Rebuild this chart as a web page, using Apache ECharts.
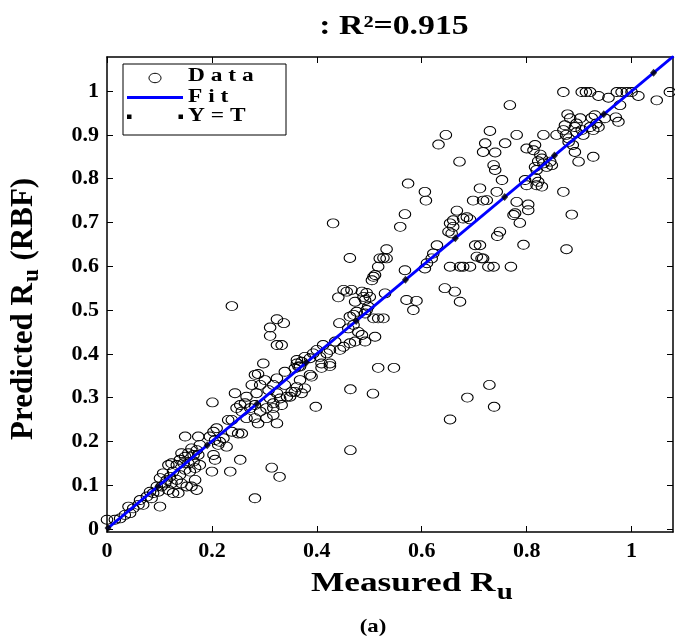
<!DOCTYPE html>
<html><head><meta charset="utf-8">
<script src="https://cdn.jsdelivr.net/npm/echarts@6/dist/echarts.min.js"></script>
<style>html,body{margin:0;padding:0;background:#fff}#c{width:675px;height:642px}</style>
</head><body><div id="c"></div>
<script>
// ---- data ----
const measured = [
0.870,0.905,0.913,0.921,0.937,0.972,0.981,0.991,1.000,1.013,0.956,1.073,1.048,0.768,0.978,0.970,0.975,0.878,0.883,0.902,
0.895,0.892,0.924,0.933,0.930,0.949,0.873,0.870,0.875,0.880,0.895,0.905,0.908,0.921,0.927,0.937,0.857,0.880,0.888,0.892,
0.832,0.781,0.730,0.721,0.717,0.740,0.759,0.800,0.816,0.813,0.826,0.829,0.822,0.832,0.838,0.816,0.819,0.737,0.740,0.753,
0.711,0.724,0.743,0.797,0.800,0.816,0.822,0.829,0.819,0.845,0.848,0.899,0.927,0.870,0.781,0.803,0.803,0.778,0.775,0.886,
0.787,0.749,0.744,0.794,0.876,0.711,0.717,0.737,0.770,
0.729,0.738,
0.464,0.507,0.464,0.398,0.517,0.547,0.654,0.687,0.368,0.377,0.371,0.390,0.387,0.349,0.358,0.362,0.425,0.409,
0.431,0.568,0.559,0.667,0.654,0.660,0.651,0.657,0.679,0.692,0.463,0.533,0.527,0.533,0.520,0.517,0.511,0.505,0.508,0.629,
0.622,0.619,0.610,0.606,0.568,0.654,0.673,0.679,0.692,0.702,0.705,0.714,0.727,0.644,0.663,0.673,0.571,0.590,0.584,0.466,
0.457,0.451,0.441,0.486,0.495,0.489,0.492,0.501,0.530,0.473,0.498,0.495,0.492,0.476,0.470,0.463,0.508,0.517,0.527,0.443,
0.470,0.460,0.479,0.486,0.492,0.473,0.463,0.511,0.451,0.444,0.435,0.425,0.412,0.419,0.406,0.400,0.393,0.387,0.377,0.371,
0.362,0.368,0.409,0.425,
0.646,0.632,0.672,0.574,0.606,0.608,0.698,0.717,0.686,0.660,
0.238,0.324,0.337,0.311,0.311,0.324,0.333,0.298,0.288,0.339,0.365,0.362,
0.358,0.282,0.301,0.317,0.324,0.339,0.352,0.343,0.324,0.308,0.292,0.276,0.285,0.266,0.311,0.330,0.317,0.333,0.304,0.292,
0.282,0.273,0.263,0.257,0.282,0.266,0.317,0.304,0.324,0.317,0.288,0.244,0.254,0.247,0.201,0.238,0.231,0.250,0.257,0.238,
0.209,0.203,0.196,0.206,0.215,0.222,0.228,0.212,0.174,0.149,0.203,0.206,0.200,0.254,0.235,0.282,0.314,0.329,0.177,0.171,
0.161,0.155,0.165,0.174,0.149,0.142,0.139,0.133,0.146,0.155,0.165,0.177,0.168,0.158,0.149,0.139,0.126,0.120,0.114,0.123,
0.133,0.142,0.152,0.161,0.168,0.171,0.136,0.126,0.117,0.111,0.104,0.095,0.088,0.082,0.098,0.076,0.085,0.101,0.063,0.069,
0.060,0.050,0.041,0.044,0.034,0.025,0.015,0.000,0.101,0.107,0.117,0.123
];
const predicted = [
0.998,0.998,0.998,0.998,0.989,0.998,0.998,0.998,0.998,0.989,0.985,0.998,0.979,0.968,0.968,0.940,0.930,0.947,0.938,0.938,
0.926,0.918,0.939,0.926,0.945,0.938,0.922,0.911,0.900,0.892,0.906,0.911,0.900,0.918,0.911,0.918,0.900,0.884,0.877,0.861,
0.900,0.900,0.909,0.881,0.861,0.860,0.881,0.869,0.877,0.865,0.855,0.846,0.840,0.835,0.827,0.827,0.820,0.831,0.820,0.797,
0.778,0.751,0.770,0.797,0.785,0.802,0.793,0.782,0.785,0.839,0.831,0.839,0.850,0.770,0.747,0.741,0.728,0.721,0.717,0.718,
0.699,0.679,0.669,0.649,0.639,0.648,0.618,0.599,0.599,
0.329,0.279,
0.319,0.309,0.180,0.279,0.368,0.368,0.250,0.300,0.340,0.321,0.310,0.348,0.352,0.302,0.313,0.324,0.372,0.368,
0.698,0.719,0.690,0.727,0.698,0.690,0.679,0.675,0.709,0.707,0.619,0.639,0.619,0.618,0.618,0.599,0.580,0.568,0.576,0.648,
0.629,0.618,0.607,0.595,0.591,0.599,0.599,0.599,0.599,0.648,0.622,0.618,0.599,0.550,0.542,0.519,0.523,0.521,0.500,0.546,
0.542,0.546,0.529,0.542,0.539,0.530,0.523,0.530,0.538,0.519,0.508,0.500,0.492,0.496,0.489,0.485,0.481,0.481,0.481,0.470,
0.466,0.458,0.450,0.443,0.428,0.428,0.424,0.439,0.416,0.409,0.428,0.409,0.420,0.401,0.393,0.409,0.401,0.390,0.393,0.382,
0.378,0.371,0.378,0.378,
0.900,0.878,0.839,0.789,0.770,0.750,0.750,0.750,0.712,0.705,
0.509,0.479,0.470,0.460,0.441,0.420,0.420,0.378,0.354,0.359,0.371,0.386,
0.367,0.352,0.340,0.329,0.344,0.329,0.313,0.302,0.310,0.317,0.329,0.329,0.310,0.302,0.298,0.298,0.287,0.283,0.276,0.268,
0.283,0.276,0.287,0.268,0.253,0.253,0.276,0.253,0.241,0.260,0.241,0.310,0.283,0.276,0.289,0.249,0.249,0.218,0.218,0.222,
0.230,0.222,0.211,0.203,0.199,0.207,0.188,0.192,0.211,0.211,0.169,0.158,0.131,0.158,0.131,0.070,0.140,0.119,0.192,0.180,
0.184,0.173,0.169,0.169,0.165,0.173,0.158,0.146,0.150,0.150,0.154,0.146,0.139,0.131,0.135,0.123,0.131,0.119,0.112,0.104,
0.112,0.104,0.097,0.097,0.112,0.089,0.082,0.082,0.089,0.104,0.097,0.097,0.082,0.085,0.085,0.074,0.070,0.051,0.066,0.055,
0.055,0.047,0.051,0.036,0.032,0.024,0.021,0.021,0.116,0.127,0.146,0.150
];
const fitX = [0, 1.08];
const fitY = [0, 1.08];
const ytX = [0.002, 0.097, 0.191, 0.286, 0.380, 0.475, 0.569, 0.664, 0.758, 0.853, 0.947, 1.042];
const ytY = [0.002, 0.097, 0.191, 0.286, 0.380, 0.475, 0.569, 0.664, 0.758, 0.853, 0.947, 1.042];
const xTicks = [0, 0.2, 0.4, 0.6, 0.8, 1];
const xTickLabels = ['0', '0.2', '0.4', '0.6', '0.8', '1'];
const yTicks = [0, 0.1, 0.2, 0.3, 0.4, 0.5, 0.6, 0.7, 0.8, 0.9, 1];
const yTickLabels = ['0', '0.1', '0.2', '0.3', '0.4', '0.5', '0.6', '0.7', '0.8', '0.9', '1'];
const titleText = ': R\u00B2=0.915';
const xName = 'Measured R', xSub = 'u';
const yName1 = 'Predicted R', ySub = 'u', yName2 = ' (RBF)';
const captionText = '(a)';
const legendNames = ['D a t a', 'F i t', 'Y = T'];

// ---- helpers ----
const FF = '"Liberation Serif","Times New Roman",serif';
const cv = document.createElement('canvas').getContext('2d');
function tw(s, fs) { cv.font = 'bold ' + fs + 'px ' + FF; return cv.measureText(s).width; }
function mid(baseline, fs) { return baseline - 0.305 * fs; }
function lab(ticks, labels) {
  return function (v) {
    const i = ticks.findIndex(t => Math.abs(t - v) < 1e-9);
    return i >= 0 ? labels[i] : '';
  };
}
function txt(s, x, y, fs, align, z) {
  return { type: 'text', x: x, y: y, silent: true, z: z || 0,
    style: { text: s, font: 'bold ' + fs + 'px ' + FF, fill: '#000', align: align || 'left', verticalAlign: 'middle' } };
}

const XMIN = 0, XMAX = 1.079, YMIN = -0.007, YMAX = 1.078;
const axisFont = { fontFamily: FF, fontWeight: 'bold', fontSize: 22, color: '#000' };
const lineSt = { color: '#000', width: 1.5 };

function xAx(pos, show) {
  return { type: 'value', position: pos, min: XMIN, max: XMAX,
    axisLine: { show: true, onZero: false, lineStyle: lineSt },
    axisTick: { show: true, inside: true, length: 6, customValues: xTicks, lineStyle: { color: '#000', width: 1 } },
    axisLabel: Object.assign({ show: show, margin: 8, customValues: xTicks, formatter: lab(xTicks, xTickLabels) }, axisFont),
    splitLine: { show: false } };
}
function yAx(pos, show) {
  return { type: 'value', position: pos, min: YMIN, max: YMAX,
    axisLine: { show: true, onZero: false, lineStyle: lineSt },
    axisTick: { show: true, inside: true, length: 6, customValues: yTicks, lineStyle: { color: '#000', width: 1 } },
    axisLabel: Object.assign({ show: show, margin: 8, customValues: yTicks, formatter: lab(yTicks, yTickLabels) }, axisFont),
    splitLine: { show: false } };
}

const dataPts = measured.map((x, i) => [x, predicted[i]]);
const fitPts = fitX.map((x, i) => [x, fitY[i]]);
const ytPts = ytX.map((x, i) => [x, ytY[i]]);

// text layout
const xNameW = tw(xName, 28);
const yName1W = tw(yName1, 31), ySubW = tw(ySub, 23);

const graphic = [
  // title
  { type: 'group', x: 394, y: 0, scaleX: 1.25, children: [ txt(titleText, 0, mid(35, 27), 27, 'center') ] },
  // x axis name
  { type: 'group', x: 311, y: 0, scaleX: 1.26, children: [
    txt(xName, 0, mid(592, 28), 28),
    txt(xSub, xNameW + 1, mid(600, 23), 23)
  ] },
  // y axis name (rotated)
  { type: 'group', x: 33, y: 440, rotation: Math.PI / 2, children: [
    txt(yName1, 0, mid(0, 31), 31),
    txt(ySub, yName1W + 1, mid(6, 23), 23),
    txt(yName2, yName1W + ySubW + 2, mid(0, 31), 31)
  ] },
  // caption
  { type: 'group', x: 373, y: 0, scaleX: 1.2, children: [ txt(captionText, 0, mid(633, 19), 19, 'center') ] },
  // legend
  { type: 'rect', shape: { x: 123, y: 64, width: 163, height: 71 }, style: { fill: '#fff', stroke: '#000', lineWidth: 1 }, z: 100 },
  { type: 'ellipse', shape: { cx: 155, cy: 78, rx: 6, ry: 4.7 }, style: { fill: 'none', stroke: '#000', lineWidth: 1 }, z: 101 },
  { type: 'line', shape: { x1: 127, y1: 97.5, x2: 183, y2: 97.5 }, style: { stroke: '#0000ff', lineWidth: 3 }, z: 101 },
  { type: 'rect', shape: { x: 127, y: 114.5, width: 4.5, height: 4.5 }, style: { fill: '#000' }, z: 101 },
  { type: 'rect', shape: { x: 178.5, y: 114.5, width: 4.5, height: 4.5 }, style: { fill: '#000' }, z: 101 },
  { type: 'group', x: 188, y: 0, scaleX: 1.3, children: [
    txt(legendNames[0], 0, mid(82, 18), 18, 'left', 102),
    txt(legendNames[1], 0, mid(103, 18), 18, 'left', 102),
    txt(legendNames[2], 0, mid(122, 18), 18, 'left', 102)
  ] }
];

const chart = echarts.init(document.getElementById('c'), null, { renderer: 'canvas' });
chart.setOption({
  animation: false,
  backgroundColor: '#fff',
  grid: { left: 107, right: 2, top: 57, bottom: 110, containLabel: false },
  xAxis: [ xAx('bottom', true), xAx('top', false) ],
  yAxis: [ yAx('left', true), yAx('right', false) ],
  series: [
    { type: 'scatter', name: 'Data', data: dataPts, symbol: 'circle', symbolSize: [11.5, 9],
      itemStyle: { color: 'rgba(0,0,0,0)', borderColor: '#000', borderWidth: 1, opacity: 1 }, z: 2, silent: true },
    { type: 'line', name: 'Fit', data: fitPts, showSymbol: false, symbol: 'none',
      lineStyle: { color: '#0000ff', width: 2.8 }, z: 3, silent: true },
    { type: 'scatter', name: 'Y = T', data: ytPts, symbol: 'diamond', symbolSize: [7, 8],
      itemStyle: { color: '#000' }, z: 4, silent: true }
  ],
  graphic: graphic
});
</script>
</body></html>
